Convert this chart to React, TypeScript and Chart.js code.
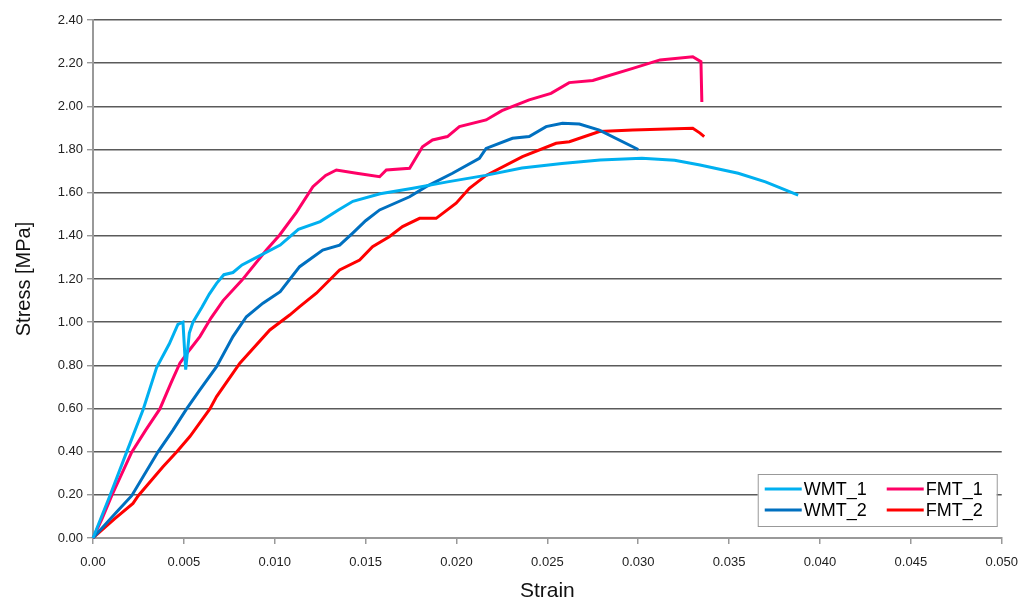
import React, { useEffect, useRef } from "react";
import { Chart, registerables } from "chart.js";

Chart.register(...registerables);

// ---- Data ----
const wmt1Strain = [0, 0.00093, 0.00185, 0.00277, 0.0035, 0.0042, 0.00467, 0.00495, 0.0051, 0.0053, 0.0055, 0.006, 0.0064, 0.0068, 0.0072, 0.0077, 0.0082, 0.009, 0.0103, 0.0113, 0.0125, 0.0135, 0.0143, 0.0158, 0.0176, 0.0195, 0.0216, 0.0236, 0.0258, 0.0279, 0.0302, 0.032, 0.0334, 0.0355, 0.037, 0.0388];
const wmt1Stress = [0, 0.196, 0.398, 0.598, 0.79, 0.9, 0.99, 1.0, 0.78, 0.95, 1.0, 1.07, 1.13, 1.18, 1.22, 1.23, 1.265, 1.3, 1.357, 1.43, 1.466, 1.52, 1.56, 1.595, 1.62, 1.65, 1.68, 1.714, 1.735, 1.751, 1.759, 1.75, 1.728, 1.69, 1.65, 1.589];

const wmt2Strain = [0, 0.0013, 0.00213, 0.00357, 0.0044, 0.00515, 0.00588, 0.0068, 0.0077, 0.00844, 0.00935, 0.0103, 0.01137, 0.01264, 0.01357, 0.01429, 0.015, 0.01577, 0.01742, 0.01833, 0.01978, 0.02126, 0.02163, 0.02308, 0.024, 0.02493, 0.02583, 0.02676, 0.02786, 0.03];
const wmt2Stress = [0, 0.12, 0.196, 0.398, 0.5, 0.598, 0.686, 0.794, 0.933, 1.025, 1.088, 1.141, 1.257, 1.334, 1.357, 1.413, 1.47, 1.52, 1.581, 1.628, 1.69, 1.759, 1.805, 1.852, 1.86, 1.906, 1.922, 1.918, 1.89, 1.8];

const fmt1Strain = [0, 0.0005, 0.00103, 0.00213, 0.0029, 0.00368, 0.0043, 0.00478, 0.0053, 0.00588, 0.0065, 0.00716, 0.0082, 0.00954, 0.01027, 0.0112, 0.0121, 0.0128, 0.01339, 0.0145, 0.01577, 0.01614, 0.01742, 0.01813, 0.01868, 0.0195, 0.02016, 0.02163, 0.0225, 0.024, 0.0252, 0.0262, 0.0275, 0.0279, 0.0297, 0.0312, 0.033, 0.03345, 0.0335];
const fmt1Stress = [0, 0.09, 0.196, 0.398, 0.5, 0.598, 0.72, 0.81, 0.87, 0.933, 1.02, 1.1, 1.195, 1.334, 1.404, 1.51, 1.628, 1.68, 1.705, 1.69, 1.674, 1.705, 1.713, 1.813, 1.844, 1.86, 1.906, 1.937, 1.98, 2.03, 2.06, 2.11, 2.12, 2.13, 2.176, 2.215, 2.23, 2.207, 2.02];

const fmt2Strain = [0, 0.0012, 0.0022, 0.00249, 0.00385, 0.0046, 0.00533, 0.00643, 0.0068, 0.00808, 0.00973, 0.01082, 0.01137, 0.01229, 0.01357, 0.01467, 0.01538, 0.0163, 0.01703, 0.01797, 0.01888, 0.01998, 0.02071, 0.02163, 0.02363, 0.02548, 0.02621, 0.02786, 0.0297, 0.033, 0.0334, 0.03363];
const fmt2Stress = [0, 0.09, 0.16, 0.196, 0.33, 0.398, 0.47, 0.598, 0.655, 0.81, 0.964, 1.033, 1.072, 1.134, 1.242, 1.288, 1.35, 1.396, 1.443, 1.481, 1.481, 1.551, 1.62, 1.68, 1.767, 1.829, 1.836, 1.883, 1.89, 1.898, 1.876, 1.86];

const seriesLabels = ["WMT_1", "WMT_2", "FMT_1", "FMT_2"];
const seriesColors = ["#00B0F0", "#0070C0", "#FF0066", "#FF0000"];

const xAxisTitle = "Strain";
const yAxisTitle = "Stress [MPa]";

const FONT = "'Liberation Sans', Arial, sans-serif";

const toPoints = (xs: number[], ys: number[]) => xs.map((x, i) => ({ x, y: ys[i] }));

const boxLegend = {
  id: "boxLegend",
  afterDraw(chart: any) {
    const { ctx, chartArea } = chart;
    const w = 239;
    const h = 52;
    const x0 = chartArea.right - 5 - w;
    const y0 = chartArea.bottom - 12 - h;
    ctx.save();
    ctx.fillStyle = "#ffffff";
    ctx.fillRect(x0, y0, w, h);
    ctx.strokeStyle = "#999999";
    ctx.lineWidth = 1;
    ctx.strokeRect(x0 + 0.5, y0 + 0.5, w, h);
    ctx.font = `18px ${FONT}`;
    ctx.textBaseline = "middle";
    ctx.fillStyle = "#000000";
    const ds = chart.data.datasets;
    ds.forEach((d: any, i: number) => {
      const col = Math.floor(i / 2);
      const row = i % 2;
      const lx = x0 + 7 + col * 122;
      const ly = y0 + 15 + row * 21;
      ctx.strokeStyle = d.borderColor;
      ctx.lineWidth = 3;
      ctx.beginPath();
      ctx.moveTo(lx, ly);
      ctx.lineTo(lx + 37, ly);
      ctx.stroke();
      ctx.fillText(d.label, lx + 39, ly + 1);
    });
    ctx.restore();
  },
};

export default function App() {
  const ref = useRef<HTMLCanvasElement | null>(null);

  useEffect(() => {
    if (!ref.current) return;
    const series = [
      toPoints(wmt1Strain, wmt1Stress),
      toPoints(wmt2Strain, wmt2Stress),
      toPoints(fmt1Strain, fmt1Stress),
      toPoints(fmt2Strain, fmt2Stress),
    ];
    const chart = new Chart(ref.current, {
      type: "line",
      data: {
        datasets: series.map((pts, i) => ({
          label: seriesLabels[i],
          data: pts,
          borderColor: seriesColors[i],
          backgroundColor: seriesColors[i],
          borderWidth: 3,
          pointRadius: 0,
          tension: 0,
          fill: false,
          clip: false as any,
        })),
      },
      options: {
        animation: false,
        responsive: false,
        parsing: false as any,
        layout: { padding: { top: 20, right: 25, left: 0, bottom: 0 } },
        plugins: {
          legend: { display: false },
          tooltip: { enabled: false },
        },
        scales: {
          x: {
            type: "linear",
            min: 0,
            max: 0.05,
            afterFit: (s: any) => {
              s.height = 63;
            },
            ticks: {
              stepSize: 0.005,
              autoSkip: false,
              maxRotation: 0,
              padding: 11,
              color: "#222",
              font: { family: FONT, size: 13 },
              callback: (v: any) => (Number(v) === 0 ? "0.00" : Number(v).toFixed(3)),
            },
            grid: {
              drawOnChartArea: false,
              drawTicks: true,
              tickLength: 6,
              tickColor: "#999",
              lineWidth: 1.5,
            },
            border: { display: true, color: "#999", width: 2 },
            title: {
              display: true,
              text: xAxisTitle,
              color: "#111",
              font: { family: FONT, size: 21, lineHeight: 0.9 },
              padding: { top: 0, bottom: 0 },
            },
          },
          y: {
            type: "linear",
            min: 0,
            max: 2.4,
            afterFit: (s: any) => {
              s.width = 93;
            },
            ticks: {
              stepSize: 0.2,
              padding: 4,
              color: "#222",
              font: { family: FONT, size: 13 },
              callback: (v: any) => Number(v).toFixed(2),
            },
            grid: {
              color: (c: any) => (c.tick && c.tick.value === 0 ? "#999" : "#5a5a5a"),
              lineWidth: 1.4,
              tickLength: 6,
              tickColor: "#999",
            },
            border: { display: true, color: "#999", width: 2 },
            title: {
              display: true,
              text: yAxisTitle,
              color: "#111",
              font: { family: FONT, size: 20, lineHeight: 1 },
              padding: { top: 14, bottom: 0 },
            },
          },
        },
      },
      plugins: [boxLegend],
    });
    return () => chart.destroy();
  }, []);

  return (
    <div style={{ position: "fixed", left: 0, top: 0, width: 1029, height: 601, background: "#fff" }}>
      <canvas ref={ref} width={1029} height={601} style={{ display: "block" }} />
    </div>
  );
}
